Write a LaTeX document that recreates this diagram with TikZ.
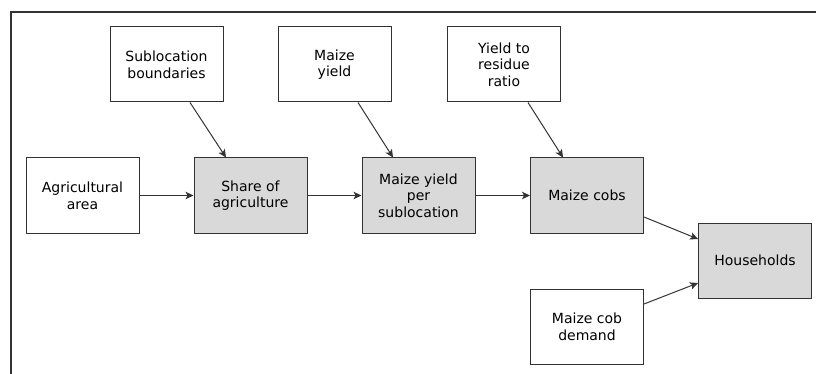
\documentclass[tikz,border=0pt]{standalone}
\usepackage{fontspec}
\setmainfont{DejaVu Sans}
\usetikzlibrary{arrows.meta}
\definecolor{linec}{HTML}{333333}
\definecolor{boxfill}{HTML}{D9D9D9}
\tikzset{
  inbox/.style={draw=linec, line width=1pt, fill=white, minimum width=113pt, minimum height=75pt,
    inner sep=2pt, align=center, font=\fontsize{14}{16.7}\selectfont},
  calcbox/.style={inbox, fill=boxfill},
  conn/.style={draw=linec, line width=1pt, -{Stealth[length=8pt,width=7.5pt,inset=2pt]}}
}
\begin{document}
\begin{tikzpicture}[x=1pt,y=-1pt]
\useasboundingbox (0,0) rectangle (816,374);
\draw[linec, line width=2pt] (816,12) -- (11,12) -- (11,374);
\node[inbox] (sub) at (166.5,64.5) {Sublocation\\boundaries};
\node[inbox] (my) at (334.5,64.5) {Maize\\yield};
\node[inbox] (yr) at (504,64.5) {Yield to\\residue\\ratio};
\node[inbox] (agri) at (82.5,195.5) {Agricultural\\area};
\node[calcbox] (share) at (250.5,195.5) {Share of\\agriculture};
\node[calcbox] (myps) at (418.5,195.5) {Maize yield\\per\\sublocation};
\node[calcbox] (cobs) at (587,195.5) {Maize cobs};
\node[calcbox] (hh) at (755,260.5) {Households};
\node[inbox] (dem) at (587,326.5) {Maize cob\\demand};
\draw[conn] ([xshift=23.5pt]sub.south) -- ([xshift=-24.5pt]share.north);
\draw[conn] ([xshift=23.5pt]my.south) -- ([xshift=-25.5pt]myps.north);
\draw[conn] ([xshift=24pt]yr.south) -- ([xshift=-24pt]cobs.north);
\draw[conn] (agri.east) -- (share.west);
\draw[conn] (share.east) -- (myps.west);
\draw[conn] (myps.east) -- (cobs.west);
\draw[conn] ([yshift=-21.5pt]cobs.east) -- ([yshift=21.5pt]hh.west);
\draw[conn] ([yshift=22.5pt]dem.east) -- ([yshift=-22.5pt]hh.west);
\end{tikzpicture}
\end{document}
